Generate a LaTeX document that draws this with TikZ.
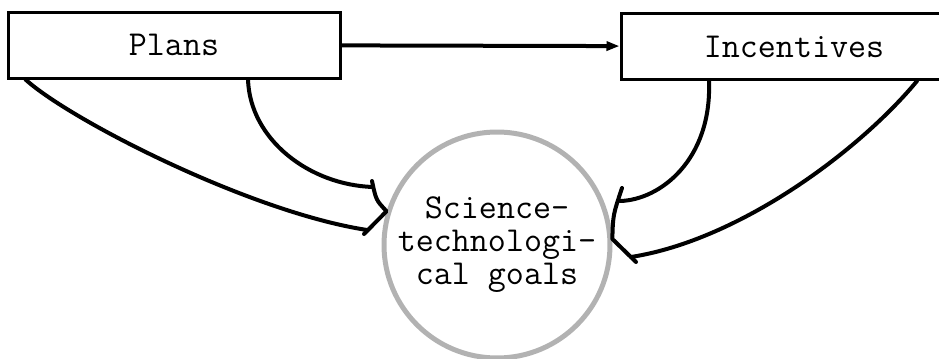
\documentclass[tikz,border=0pt]{standalone}
\usepackage{fontspec}
\usetikzlibrary{arrows.meta}

\tikzset{
  box/.style={draw, line width=1.5pt, minimum height=33pt, inner sep=0pt,
    font=\ttfamily\fontsize{17.5}{16.5}\selectfont},
  goal/.style={circle, draw=gray!60, line width=2.5pt, minimum size=113pt, inner sep=0pt,
    align=center, font=\ttfamily\fontsize{17.5}{16.5}\selectfont},
  link/.style={line width=2pt, line cap=round, line join=round},
}

\begin{document}
\begin{tikzpicture}[x=0.5pt,y=-0.5pt]
\useasboundingbox (0,0) rectangle (939,359);
\node[box, minimum width=166pt] (plans) at (174,45) {Plans};
\node[box, minimum width=173pt] (incentives) at (794,46.5) {Incentives};
\node[goal] (goals) at (497,245) {Science-\\technologi-\\cal goals};

\coordinate (ltop) at (373,187);
\coordinate (lbot) at (367,230);
\coordinate (rtop) at (620,201);
\coordinate (rbot) at (631,257);
\coordinate (lhooka) at (372,181);
\coordinate (lhookb) at (364,234);
\coordinate (rhooka) at (622,188);
\coordinate (rhookb) at (636,262);

\draw[link, -{Triangle[open, length=6.5pt, width=4.5pt]}] (plans) -- (incentives);

\draw[link] ([xshift=9.5pt]plans.south west) .. controls (70,120) and (250,212) .. (lbot);
\draw[link] ([xshift=37pt]plans.south) .. controls (250,140) and (310,185) .. (ltop);
\draw[link] ([xshift=-42.5pt]incentives.south) .. controls (712,160) and (660,200) .. (rtop);
\draw[link] ([xshift=61.5pt]incentives.south) .. controls (860,150) and (740,240) .. (rbot);

\draw[link] (lhooka) .. controls (376,200) .. (goals.163) -- (lhookb);
\draw[link] (rhooka) .. controls (613,215) .. (goals.3) -- (rhookb);
\end{tikzpicture}
\end{document}
